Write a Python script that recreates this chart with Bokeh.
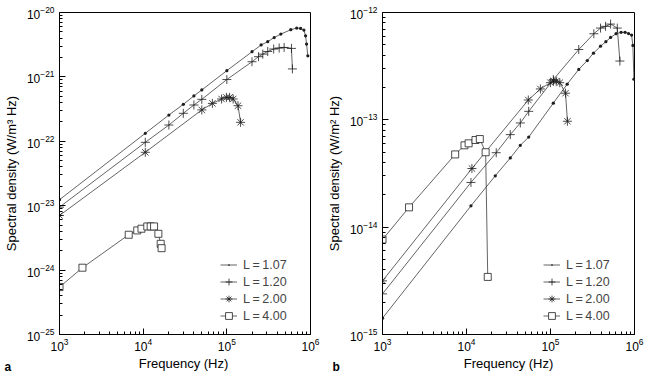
from bokeh.plotting import figure
from bokeh.layouts import row, column
from bokeh.models import FixedTicker, LogTickFormatter, Legend, LegendItem
from bokeh.core.properties import value
from bokeh.embed import file_html
from bokeh.resources import INLINE

# ---- panel a: spectral density per unit volume (W/m^3 Hz) ----
a_f_107 = [1e3, 1.06e4, 2.03e4, 3.02e4, 4.04e4, 5.02e4, 1.0e5, 2.0e5, 2.57e5, 3.08e5,
           3.68e5, 4.42e5, 5.81e5, 6.84e5, 7.62e5, 8.34e5, 8.73e5, 8.97e5, 9.29e5]
a_s_107 = [1.24e-23, 1.33e-22, 2.56e-22, 3.75e-22, 5.06e-22, 6.27e-22, 1.25e-21, 2.46e-21,
           3.13e-21, 3.52e-21, 4.09e-21, 4.62e-21, 5.40e-21, 5.73e-21, 5.65e-21, 5.33e-21,
           4.35e-21, 3.24e-21, 2.13e-21]

a_f_120 = [1e3, 1.06e4, 2.03e4, 3.02e4, 4.04e4, 5.02e4, 1.0e5, 2.0e5, 2.39e5, 2.69e5,
           3.08e5, 3.63e5, 4.22e5, 4.84e5, 5.92e5, 6.08e5]
a_s_120 = [9.5e-24, 9.64e-23, 1.79e-22, 2.72e-22, 3.66e-22, 4.48e-22, 9.1e-22, 1.72e-21,
           2.06e-21, 2.26e-21, 2.48e-21, 2.71e-21, 2.81e-21, 2.87e-21, 2.77e-21, 1.33e-21]

a_f_200 = [1e3, 1.06e4, 5.02e4, 6.72e4, 8.65e4, 9.9e4, 1.08e5, 1.19e5, 1.36e5, 1.46e5]
a_s_200 = [7.05e-24, 6.75e-23, 3.07e-22, 3.88e-22, 4.54e-22, 4.81e-22, 4.81e-22, 4.54e-22,
           3.57e-22, 1.97e-22]

a_f_400 = [1e3, 1.88e3, 6.72e3, 8.5e3, 9.55e3, 1.12e4, 1.23e4, 1.35e4, 1.52e4, 1.62e4, 1.66e4]
a_s_400 = [5.45e-25, 1.09e-24, 3.54e-24, 4.13e-24, 4.39e-24, 4.76e-24, 4.76e-24, 4.76e-24,
           3.66e-24, 2.56e-24, 2.19e-24]

# ---- panel b: spectral density per unit area (W/m^2 Hz) ----
b_f_107 = [1e3, 1.13e4, 2.2e4, 3.32e4, 4.37e4, 5.5e4, 1.08e5, 1.58e5, 2.17e5, 2.74e5,
           3.25e5, 3.94e5, 4.56e5, 5.19e5, 6.03e5, 6.92e5, 7.72e5, 8.5e5, 9.23e5, 9.57e5, 9.84e5]
b_s_107 = [1.42e-15, 1.58e-14, 3.01e-14, 4.41e-14, 5.79e-14, 6.91e-14, 1.43e-13, 2.15e-13,
           2.95e-13, 3.57e-13, 4.18e-13, 4.85e-13, 5.34e-13, 5.85e-13, 6.34e-13, 6.53e-13,
           6.53e-13, 6.37e-13, 6.16e-13, 4.93e-13, 2.39e-13]

b_f_120 = [1e3, 1.13e4, 2.26e4, 3.32e4, 4.37e4, 5.5e4, 1.08e5, 2.17e5, 3.28e5, 3.94e5,
           4.52e5, 5.19e5, 6.24e5, 6.7e5]
b_s_120 = [2.39e-15, 2.61e-14, 4.94e-14, 7.28e-14, 9.35e-14, 1.2e-13, 2.37e-13, 4.52e-13,
           6.34e-13, 7.16e-13, 7.43e-13, 7.8e-13, 7.16e-13, 3.53e-13]

b_f_200 = [1e3, 1.16e4, 5.44e4, 7.58e4, 9.98e4, 1.09e5, 1.17e5, 1.29e5, 1.51e5, 1.59e5]
b_s_200 = [3.16e-15, 3.52e-14, 1.53e-13, 1.94e-13, 2.22e-13, 2.31e-13, 2.29e-13, 2.22e-13,
           1.77e-13, 9.7e-14]

b_f_400 = [1e3, 2.07e3, 7.33e3, 9.47e3, 1.06e4, 1.28e4, 1.44e4, 1.69e4, 1.79e4]
b_s_400 = [7.67e-15, 1.53e-14, 4.76e-14, 5.79e-14, 6.04e-14, 6.49e-14, 6.62e-14, 4.99e-14,
           3.44e-15]

series_labels = ["L\u2009=\u20091.07", "L\u2009=\u20091.20", "L\u2009=\u20092.00", "L\u2009=\u20094.00"]
panel_tags = ["a", "b"]
x_title = "Frequency (Hz)"

# decade exponents for the axes
x_exps = [3, 4, 5, 6]
a_y_exps = [-25, -24, -23, -22, -21, -20]
b_y_exps = [-15, -14, -13, -12]

FONT = "Liberation Sans"
LINE = "#3c3c3c"
INK = "#1e1e1e"
TOTAL_H = 372
STRIP_H = 19          # band under the panels: x titles and panel letters
PANEL_H = TOTAL_H - STRIP_H
# (width, left border, right border, top border) per panel
GEOM_A = (322, 56, 12, 12)
GEOM_B = (324, 60, 12, 9)

markers = [
    dict(marker="dot", size=13, fill_color=INK, line_color=INK),
    dict(marker="cross", size=9, fill_color=None, line_color=INK),
    dict(marker="asterisk", size=9, fill_color=None, line_color=INK),
    dict(marker="square", size=7, fill_color="white", line_color=INK),
]


def decade_ticker(exps):
    majors = [10.0 ** e for e in exps]
    minors = [k * 10.0 ** e for e in exps[:-1] for k in range(2, 10)]
    return FixedTicker(ticks=majors, minor_ticks=minors)


def panel(series, y_exps, ylabel, geom):
    width, bl, br, bt = geom
    p = figure(width=width, height=PANEL_H, x_axis_type="log", y_axis_type="log",
               x_range=(10.0 ** x_exps[0], 10.0 ** x_exps[-1]),
               y_range=(10.0 ** y_exps[0], 10.0 ** y_exps[-1]),
               output_backend="svg", toolbar_location=None, title=None,
               min_border_left=bl, min_border_right=br, min_border_top=bt, min_border_bottom=19)
    p.xgrid.visible = False
    p.ygrid.visible = False
    p.outline_line_color = "black"
    p.outline_line_width = 1
    p.background_fill_color = "white"
    p.border_fill_color = "white"

    p.xaxis.ticker = decade_ticker(x_exps)
    p.yaxis.ticker = decade_ticker(y_exps)
    for ax in (p.xaxis, p.yaxis):
        ax.formatter = LogTickFormatter()
        ax.major_tick_in = 6
        ax.major_tick_out = 0
        ax.minor_tick_in = 3
        ax.minor_tick_out = 0
        ax.axis_line_color = "black"
        ax.major_tick_line_color = "black"
        ax.minor_tick_line_color = "black"
        ax.major_label_text_font = FONT
        ax.major_label_text_font_size = "12px"
        ax.major_label_text_color = "black"
        ax.axis_label_text_font = FONT
        ax.axis_label_text_font_size = "13px"
        ax.axis_label_text_font_style = "normal"
        ax.axis_label_text_color = "black"
    p.yaxis.axis_label = ylabel
    p.xaxis.major_label_standoff = 3
    p.yaxis.major_label_standoff = 5
    p.yaxis.axis_label_standoff = 5

    items = []
    for (fx, sy), lab, mk in zip(series, series_labels, markers):
        r1 = p.line(fx, sy, line_color=LINE, line_width=0.8)
        r2 = p.scatter(fx, sy, line_width=0.8, **mk)
        items.append(LegendItem(label=lab, renderers=[r1, r2]))

    leg = Legend(items=items, location=(161, 10), glyph_width=17, glyph_height=17,
                 label_height=17, label_standoff=6, spacing=0, padding=0, margin=0,
                 background_fill_alpha=0, border_line_alpha=0,
                 label_text_font=FONT, label_text_font_size="12.5px")
    p.add_layout(leg, "center")
    return p


pa = panel([(a_f_107, a_s_107), (a_f_120, a_s_120), (a_f_200, a_s_200), (a_f_400, a_s_400)],
           a_y_exps, "Spectral density (W/m\u00b3 Hz)", GEOM_A)
pb = panel([(b_f_107, b_s_107), (b_f_120, b_s_120), (b_f_200, b_s_200), (b_f_400, b_s_400)],
           b_y_exps, "Spectral density (W/m\u00b2 Hz)", GEOM_B)

# band under both panels: x-axis titles centred on each frame, bold panel letters at the left
total_w = GEOM_A[0] + GEOM_B[0]
centre_a = GEOM_A[1] + (GEOM_A[0] - GEOM_A[1] - GEOM_A[2]) / 2
centre_b = GEOM_A[0] + GEOM_B[1] + (GEOM_B[0] - GEOM_B[1] - GEOM_B[2]) / 2

strip = figure(width=total_w, height=STRIP_H, x_range=(0, total_w), y_range=(0, STRIP_H),
               output_backend="svg", toolbar_location=None, title=None,
               x_axis_location=None, y_axis_location=None, min_border=0)
strip.outline_line_color = None
strip.xgrid.visible = False
strip.ygrid.visible = False
strip.text(x=[centre_a, centre_b], y=[STRIP_H - 10, STRIP_H - 10], text=[x_title, x_title],
           text_font=value(FONT), text_font_size="13px", text_align="center",
           text_baseline="middle", text_color="black")
strip.text(x=[4, GEOM_A[0] + 10], y=[6, 6], text=panel_tags, text_font=value(FONT),
           text_font_size="12px", text_font_style="bold", text_baseline="middle",
           text_color="black")

layout = column(row(pa, pb), strip)
open("out.html", "w").write(file_html(layout, INLINE))
